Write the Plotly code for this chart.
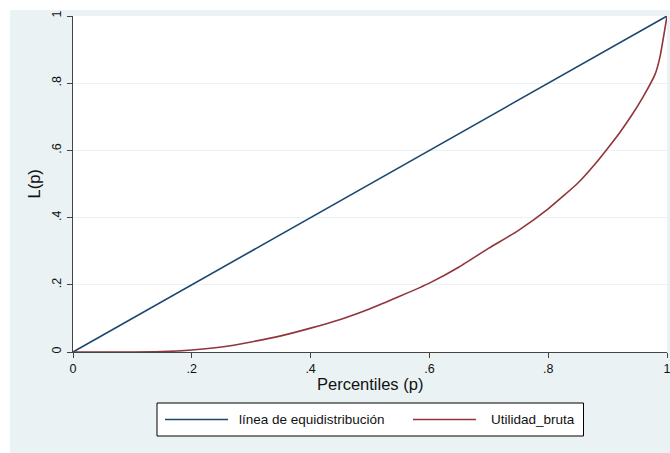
import plotly.graph_objects as go

# Equal-distribution diagonal
p_equal = [0.0, 1.0]
L_equal = [0.0, 1.0]

# Lorenz curve of gross profit (Utilidad_bruta)
p_util = [0.0, 0.10, 0.15, 0.20, 0.25, 0.30, 0.35, 0.40, 0.45, 0.50, 0.55,
          0.60, 0.65, 0.70, 0.75, 0.80, 0.85, 0.88, 0.90, 0.92, 0.94, 0.96,
          0.98, 0.988, 1.0]
L_util = [0.0, 0.0, 0.001, 0.006, 0.015, 0.030, 0.048, 0.071, 0.097, 0.129, 0.166,
          0.205, 0.253, 0.309, 0.362, 0.426, 0.503, 0.562, 0.606, 0.652, 0.703, 0.760,
          0.827, 0.877, 1.0]

series_names = ["línea de equidistribución", "Utilidad_bruta"]
series_colors = ["#1a476f", "#90353b"]

tick_vals = [0, 0.2, 0.4, 0.6, 0.8, 1]
tick_text = ["0", ".2", ".4", ".6", ".8", "1"]

x_title = "Percentiles (p)"
y_title = "L(p)"

FONT = "Liberation Sans, Arial, Helvetica, sans-serif"
BG = "#eaf2f3"
W, H = 670, 453
ML, MR, MT, MB = 73, 3, 16, 101
PW, PH = W - ML - MR, H - MT - MB


def px_x(x):
    """Pixel column -> paper x."""
    return (x - ML) / PW


def px_y(y):
    """Pixel row -> paper y."""
    return (H - MB - y) / PH


fig = go.Figure()
fig.add_trace(go.Scatter(x=p_equal, y=L_equal, mode="lines", name=series_names[0],
                         line=dict(color=series_colors[0], width=1.6), cliponaxis=False))
fig.add_trace(go.Scatter(x=p_util, y=L_util, mode="lines", name=series_names[1],
                         line=dict(color=series_colors[1], width=1.6, shape="spline",
                                   smoothing=0.5),
                         cliponaxis=False))

shapes = [
    # outer graph region
    dict(type="rect", xref="paper", yref="paper", layer="below",
         x0=px_x(10), x1=px_x(W + 2), y0=px_y(H + 2), y1=px_y(10),
         fillcolor=BG, line=dict(width=0)),
    # plot region
    dict(type="rect", xref="paper", yref="paper", layer="below",
         x0=0, x1=1, y0=0, y1=1, fillcolor="white", line=dict(width=0)),
    # legend box
    dict(type="rect", xref="paper", yref="paper",
         x0=px_x(157), x1=px_x(583.5), y0=px_y(436), y1=px_y(403),
         fillcolor="white", line=dict(color="#000000", width=1)),
]

legend_y = px_y(419.5)
sample_spans = [(165, 228), (413, 476)]
text_starts = [237, 489]
annotations = []
for name, color, (sx0, sx1), tx in zip(series_names, series_colors, sample_spans, text_starts):
    shapes.append(dict(type="line", xref="paper", yref="paper",
                       x0=px_x(sx0), x1=px_x(sx1), y0=legend_y, y1=legend_y,
                       line=dict(color=color, width=1.6)))
    annotations.append(dict(text=name, xref="paper", yref="paper", x=px_x(tx), y=legend_y,
                            xanchor="left", yanchor="middle", showarrow=False,
                            font=dict(family=FONT, size=13.5, color="#111111")))

annotations.append(dict(text=x_title, xref="paper", yref="paper", x=0.5, y=px_y(383.5),
                        xanchor="center", yanchor="middle", showarrow=False,
                        font=dict(family=FONT, size=16.5, color="#111111")))
annotations.append(dict(text=y_title, xref="paper", yref="paper", x=px_x(33.5), y=0.5,
                        xanchor="center", yanchor="middle", showarrow=False, textangle=-90,
                        font=dict(family=FONT, size=16.5, color="#111111")))

fig.update_layout(
    width=W, height=H,
    margin=dict(l=ML, r=MR, t=MT, b=MB, autoexpand=False),
    paper_bgcolor="white", plot_bgcolor="white",
    showlegend=False,
    font=dict(family=FONT, size=12.5, color="#111111"),
    shapes=shapes, annotations=annotations,
)
fig.update_xaxes(range=[0, 1], tickvals=tick_vals, ticktext=tick_text,
                 automargin=False, showgrid=False, zeroline=False,
                 showline=True, linecolor="#444444", linewidth=1.2,
                 ticks="outside", ticklen=5, tickcolor="#444444", tickwidth=1.2,
                 ticklabeloverflow="allow",
                 tickfont=dict(family=FONT, size=12.5, color="#111111"))
fig.update_yaxes(range=[0, 1], tickvals=tick_vals, ticktext=tick_text,
                 automargin=False, showgrid=True, gridcolor=BG, gridwidth=1.2,
                 zeroline=False,
                 showline=True, linecolor="#444444", linewidth=1.2,
                 ticks="outside", ticklen=5, tickcolor="#444444", tickwidth=1.2,
                 tickangle=-90, ticklabelstandoff=1, ticklabeloverflow="allow",
                 tickfont=dict(family=FONT, size=12.5, color="#111111"))

fig.write_html("out.html")
